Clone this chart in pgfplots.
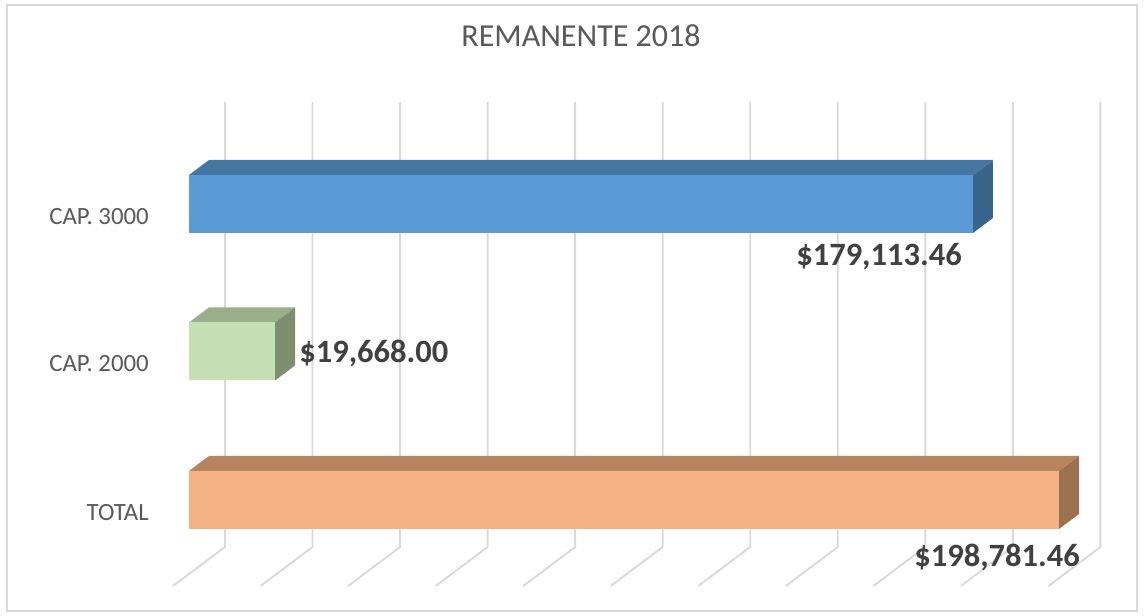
\documentclass[border=0pt]{standalone}
\usepackage{fontspec}
\setmainfont{Carlito}
\usepackage{pgfplots}
\pgfplotsset{compat=1.18}
\definecolor{gridc}{HTML}{D9D9D9}
\definecolor{txt}{HTML}{595959}
\definecolor{lab}{HTML}{404040}
\definecolor{bfront}{HTML}{5B9BD5}
\definecolor{btop}{HTML}{4575A1}
\definecolor{bside}{HTML}{3A6489}
\definecolor{gfront}{HTML}{C5E0B4}
\definecolor{gtop}{HTML}{99AF8A}
\definecolor{gside}{HTML}{7E8F70}
\definecolor{ofront}{HTML}{F4B183}
\definecolor{otop}{HTML}{B8845F}
\definecolor{oside}{HTML}{9C7150}
\begin{document}
\begin{tikzpicture}
\begin{axis}[
  width=858.75pt, height=462pt, scale only axis,
  xmin=-43181, xmax=218417, ymin=0, ymax=616,
  axis line style={draw=none}, tick style={draw=none},
  xtick=\empty,
  ytick={116,264.5,412},
  yticklabels={TOTAL,CAP. 2000,CAP. 3000},
  yticklabel style={anchor=east, inner sep=0pt, xshift=111.75pt, yshift=-9.2pt,
    font=\fontsize{18.6}{21}\selectfont, text=txt},
  clip=false,
  title={REMANENTE 2018},
  title style={at={(0.5074,0.9123)}, anchor=base, inner sep=0pt,
    font=\fontsize{24}{28}\selectfont, text=txt},
]
% background frame
\draw[gridc, line width=0.8pt] (axis cs:-41582,611) rectangle (axis cs:216590,5);
% grid: back wall and floor
\addplot[gridc, line width=1.4pt, unbounded coords=jump, line join=round] table {
x y
8225 514
8225 69
-3656 30
nan nan
28225 514
28225 69
16344 30
nan nan
48225 514
48225 69
36344 30
nan nan
68225 514
68225 69
56344 30
nan nan
88225 514
88225 69
76344 30
nan nan
108225 514
108225 69
96344 30
nan nan
128225 514
128225 69
116344 30
nan nan
148225 514
148225 69
136344 30
nan nan
168225 514
168225 69
156344 30
nan nan
188225 514
188225 69
176344 30
nan nan
208225 514
208225 69
196344 30
};
% CAP. 3000 = 179113.46
\addplot[fill=btop, draw=none] coordinates {(0,441) (179113.46,441) (183682.46,456) (4569,456)} -- cycle;
\addplot[fill=bside, draw=none] coordinates {(179113.46,383) (183682.46,398) (183682.46,456) (179113.46,441)} -- cycle;
\addplot[fill=bfront, draw=none] coordinates {(0,383) (179113.46,383) (179113.46,441) (0,441)} -- cycle;
% CAP. 2000 = 19668.00
\addplot[fill=gtop, draw=none] coordinates {(0,293.5) (19668,293.5) (24237,308.5) (4569,308.5)} -- cycle;
\addplot[fill=gside, draw=none] coordinates {(19668,235.5) (24237,250.5) (24237,308.5) (19668,293.5)} -- cycle;
\addplot[fill=gfront, draw=none] coordinates {(0,235.5) (19668,235.5) (19668,293.5) (0,293.5)} -- cycle;
% TOTAL = 198781.46
\addplot[fill=otop, draw=none] coordinates {(0,145) (198781.46,145) (203350.46,160) (4569,160)} -- cycle;
\addplot[fill=oside, draw=none] coordinates {(198781.46,87) (203350.46,102) (203350.46,160) (198781.46,145)} -- cycle;
\addplot[fill=ofront, draw=none] coordinates {(0,87) (198781.46,87) (198781.46,145) (0,145)} -- cycle;
% data labels
\node[anchor=base east, inner sep=0pt, text=lab, font=\fontsize{24.4}{28}\selectfont\bfseries] at (axis cs:176607,350) {\$179,113.46};
\node[anchor=base west, inner sep=0pt, text=lab, font=\fontsize{24.4}{28}\selectfont\bfseries] at (axis cs:25132,253) {\$19,668.00};
\node[anchor=base east, inner sep=0pt, text=lab, font=\fontsize{24.4}{28}\selectfont\bfseries] at (axis cs:203567,49) {\$198,781.46};
\end{axis}
\end{tikzpicture}
\end{document}
